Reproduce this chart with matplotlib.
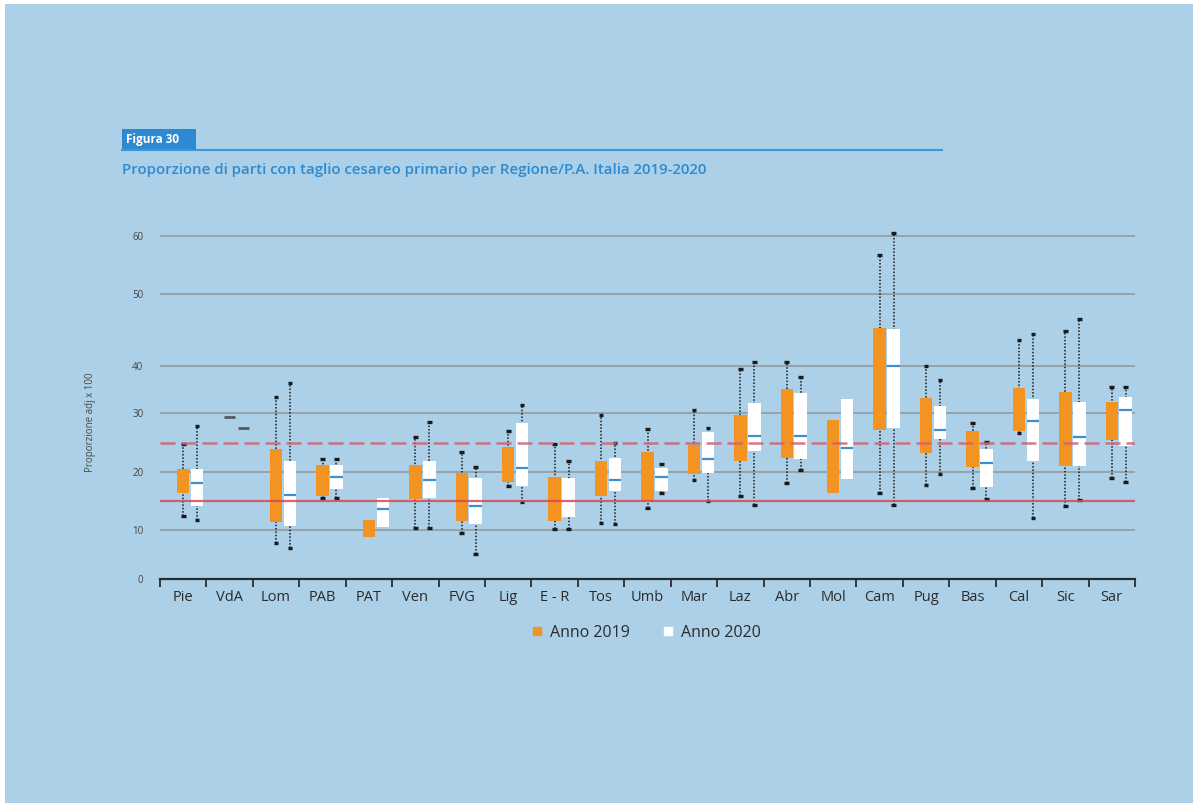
import numpy as np
import matplotlib
matplotlib.use("Agg")
import matplotlib.pyplot as plt
from matplotlib.lines import Line2D
from matplotlib.patches import Rectangle

plt.rcParams["font.family"] = ["Open Sans", "DejaVu Sans"]

REGIONS = ["Pie", "VdA", "Lom", "PAB", "PAT", "Ven", "FVG", "Lig", "E - R", "Tos", "Umb",
           "Mar", "Laz", "Abr", "Mol", "Cam", "Pug", "Bas", "Cal", "Sic", "Sar"]

# Anno 2019: quartiles and whisker ends (nan = no whisker)
Q1_2019 = [16.4, 29.4, 11.3, 15.9, 8.6, 15.3, 11.55, 18.2, 11.6, 15.9, 14.8,
           19.6, 21.9, 22.4, 16.4, 27.2, 23.3, 20.9, 27.0, 21.0, 25.5]
Q3_2019 = [20.5, 29.4, 23.85, 21.2, 11.8, 21.2, 19.8, 24.3, 19.2, 21.9, 23.4,
           24.6, 29.7, 35.1, 28.8, 45.3, 33.1, 27.0, 35.3, 34.5, 32.4]
LO_2019 = [12.4, np.nan, 7.4, 15.6, np.nan, 10.3, 9.3, 17.6, 10.2, 11.15, 13.8,
           18.6, 15.9, 18.05, np.nan, 16.3, 17.8, 17.3, 26.6, 14.1, 18.9]
HI_2019 = [24.7, np.nan, 33.3, 22.15, np.nan, 25.9, 23.4, 26.9, 24.7, 29.7, 27.3,
           30.6, 39.3, 40.5, np.nan, 56.7, 40.0, 28.3, 43.6, 44.8, 35.6]

# Anno 2020: quartiles, median and whisker ends
Q1_2020 = [14.1, 27.4, 10.7, 17.1, 10.6, 15.6, 11.0, 17.6, 12.3, 16.8, 16.8,
           19.9, 23.6, 22.2, 18.8, 27.5, 25.6, 17.5, 21.9, 21.0, 24.4]
Q3_2020 = [20.5, 27.4, 21.8, 21.2, 15.6, 21.9, 18.9, 28.25, 18.9, 22.3, 20.7,
           26.8, 32.1, 34.2, 32.9, 45.2, 31.4, 23.85, 32.9, 32.4, 33.5]
MED_2020 = [18.05, np.nan, 16.0, 19.1, 13.7, 18.6, 14.1, 20.7, np.nan, 18.6, 19.2,
            22.15, 26.1, 26.1, 24.0, 40.0, 27.1, 21.6, 28.6, 26.0, 30.6]
LO_2020 = [11.8, np.nan, 6.3, 15.5, np.nan, 10.3, 5.1, 14.9, 10.2, 11.0, 16.4,
           15.0, 14.3, 20.3, np.nan, 14.3, 19.7, 15.3, 12.1, 15.2, 18.25]
HI_2020 = [27.8, np.nan, 36.3, 22.15, np.nan, 28.4, 20.8, 31.7, 21.9, 25.0, 21.4,
           27.5, 40.5, 37.6, np.nan, 60.5, 37.0, 25.1, 44.5, 46.5, 35.6]

REF_LOW = 15
REF_HIGH = 25
Y_TICKS = [0, 10, 20, 30, 40, 50, 60]

# piecewise-linear y scale: the labelled intervals are not evenly spaced
SCALE_VALS = [0, 10, 20, 30, 40, 50, 60, 70]
SCALE_PIX = [0, 49, 107, 166, 213, 285, 343, 401]

BG = "#abd0e7"
ORANGE = "#f39322"
WHITE = "#ffffff"
MEDIAN = "#3d8fd1"
GRID = "#8d969b"
INK = "#2b2b2b"
RED = "#d8475a"
RED_DASH = "#cf6271"
TITLE_BLUE = "#2d8ad0"

W, H = 1198, 807


def forward(v):
    return np.interp(v, SCALE_VALS, SCALE_PIX)


def inverse(p):
    return np.interp(p, SCALE_PIX, SCALE_VALS)


def draw_series(ax, xs, q1, q3, lo, hi, color, med=None, width=0.27):
    q1 = np.asarray(q1)
    q3 = np.asarray(q3)
    lo = np.asarray(lo)
    hi = np.asarray(hi)
    has_whisk = ~np.isnan(lo)
    ax.vlines(xs[has_whisk], lo[has_whisk], hi[has_whisk], colors="#1a1a1a",
              linestyles=(0, (1, 1.2)), linewidth=1.1, zorder=2)
    for cap in (lo, hi):
        ax.hlines(cap[has_whisk], xs[has_whisk] - 0.05, xs[has_whisk] + 0.05,
                  colors="#1a1a1a", linewidth=2.4, zorder=2)
    flat = q3 - q1 == 0
    ax.bar(xs[~flat], (q3 - q1)[~flat], bottom=q1[~flat], width=width,
           color=color, zorder=3)
    # single-value regions drawn as a short dash
    ax.hlines(q1[flat], xs[flat] - 0.12, xs[flat] + 0.12, colors="#555a5e",
              linewidth=2, zorder=3)
    if med is not None:
        med = np.asarray(med)
        ok = ~np.isnan(med)
        ax.hlines(med[ok], xs[ok] - width / 2, xs[ok] + width / 2,
                  colors=MEDIAN, linewidth=1.6, zorder=4)


fig = plt.figure(figsize=(W / 100, H / 100), dpi=100, facecolor="white")
fig.patches.append(Rectangle((5 / W, 4 / H), 1188 / W, 799 / H, transform=fig.transFigure,
                             facecolor=BG, edgecolor="none", zorder=-10))

top = 61
ax = fig.add_axes([160 / W, 1 - 579 / H, 975 / W, forward(top) / H])
ax.set_facecolor("none")
ax.set_yscale("function", functions=(forward, inverse))
ax.set_ylim(0, top)
ax.set_xlim(-0.5, len(REGIONS) - 0.5)

x = np.arange(len(REGIONS))
for v in Y_TICKS[1:]:
    ax.axhline(v, color=GRID, linewidth=1.1, zorder=1)

draw_series(ax, x, Q1_2019, Q3_2019, LO_2019, HI_2019, ORANGE)
draw_series(ax, x + 0.3, Q1_2020, Q3_2020, LO_2020, HI_2020, WHITE, med=MED_2020)

ax.axhline(REF_LOW, color=RED, linewidth=1.6, alpha=0.85, zorder=5)
ax.axhline(REF_HIGH, color=RED_DASH, linewidth=1.8, alpha=0.85, dashes=(6, 2.4), zorder=5)

for side in ("top", "right", "left"):
    ax.spines[side].set_visible(False)
ax.spines["bottom"].set_color(INK)
ax.spines["bottom"].set_linewidth(1.6)

ax.set_yticks(Y_TICKS)
ax.set_yticklabels([str(v) for v in Y_TICKS])
ax.tick_params(axis="y", length=0, pad=12, labelsize=7, labelcolor="#444444")

ax.set_xticks(np.arange(len(REGIONS) + 1) - 0.5)
ax.set_xticklabels([])
ax.tick_params(axis="x", which="major", direction="out", length=6, width=1.3, color=INK)
ax.set_xticks(x, minor=True)
ax.set_xticklabels(REGIONS, minor=True)
ax.tick_params(axis="x", which="minor", length=0, pad=8, labelsize=10.5, labelcolor=INK)

fig.text(90 / W, 1 - 422 / H, "Proporzione adj x 100", rotation=90, ha="center",
         va="center", fontsize=7, color="#4a4a3e")

# heading
fig.patches.append(Rectangle((122 / W, 1 - 149 / H), 74 / W, 20 / H, transform=fig.transFigure,
                             facecolor=TITLE_BLUE, edgecolor="none", zorder=1))
fig.lines.append(Line2D([122 / W, 942 / W], [1 - 150 / H, 1 - 150 / H],
                        transform=fig.transFigure, color="#3f95d6", linewidth=1.5))
fig.text(126 / W, 1 - 139 / H, "Figura 30", color="white", fontsize=8.5, fontweight="bold",
         ha="left", va="center")
fig.text(122 / W, 1 - 170 / H,
         "Proporzione di parti con taglio cesareo primario per Regione/P.A. Italia 2019-2020",
         color=TITLE_BLUE, fontsize=10.8, fontweight="semibold", ha="left", va="center")

handles = [
    Line2D([], [], marker="s", linestyle="none", markersize=6, color=ORANGE),
    Line2D([], [], marker="s", linestyle="none", markersize=6, color=WHITE),
]
fig.legend(handles, ["Anno 2019", "Anno 2020"], loc="center", ncol=2,
           bbox_to_anchor=(646 / W, 1 - 633 / H), frameon=False, fontsize=11.5,
           handlelength=0.7, handletextpad=0.5, columnspacing=2.0, labelcolor=INK)

fig.savefig("out.png", dpi=100, facecolor="white")
